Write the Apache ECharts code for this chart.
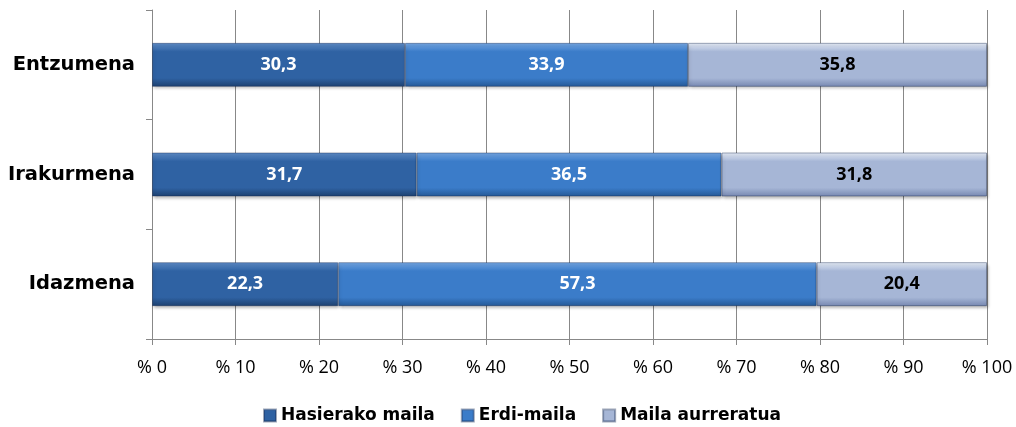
<!DOCTYPE html>
<html><head><meta charset="utf-8">
<script src="https://cdn.jsdelivr.net/npm/echarts@6/dist/echarts.min.js"></script>
<style>html,body{margin:0;padding:0;background:#fff}#c{width:1016px;height:427px}</style>
</head><body><div id="c"></div>
<script>
const categories = ['Idazmena', 'Irakurmena', 'Entzumena'];
const seriesNames = ['Hasierako maila', 'Erdi-maila', 'Maila aurreratua'];
const hasierako = [22.3, 31.7, 30.3];
const erdi = [57.3, 36.5, 33.9];
const aurreratua = [20.4, 31.8, 35.8];
const tickValues = [0,10,20,30,40,50,60,70,80,90,100];

function grad(top, mid, bot) {
  return new echarts.graphic.LinearGradient(0,0,0,1,[
    {offset:0,color:top},{offset:0.2,color:mid},{offset:0.8,color:mid},{offset:1,color:bot}
  ]);
}
const styles = [
  {color: grad('#5f8dc8','#2f62a3','#1c406f'), label:'#ffffff'},
  {color: grad('#76a8e4','#3b7cc9','#245895'), label:'#ffffff'},
  {color: grad('#e8eef8','#a6b6d6','#7687b0'), label:'#000000'}
];
const datas = [hasierako, erdi, aurreratua];
const chart = echarts.init(document.getElementById('c'));
chart.setOption({
  animation:false,
  grid:{left:152,right:29,top:10,bottom:88,containLabel:false},
  legend:{bottom:-2,left:258,itemWidth:12,itemHeight:12,itemGap:26,icon:'rect',
    textStyle:{fontFamily:'DejaVu Sans',fontWeight:'bold',fontSize:17,color:'#000'},
    data:seriesNames},
  xAxis:{type:'value',min:0,max:100,interval:10,
    axisLine:{show:true,lineStyle:{color:'#888',width:1}},
    axisTick:{show:true,length:6,lineStyle:{color:'#888'}},
    splitLine:{show:true,lineStyle:{color:'#888',width:1}},
    axisLabel:{formatter:v=>'% '+v,fontFamily:'Open Sans',fontSize:18,color:'#000',margin:20}},
  yAxis:{type:'category',data:categories,
    axisLine:{show:true,lineStyle:{color:'#888',width:1}},
    axisTick:{show:true,length:6,lineStyle:{color:'#888'}},
    axisLabel:{fontFamily:'DejaVu Sans',fontWeight:'bold',fontSize:19.5,color:'#000',margin:17}},
  series: seriesNames.map((n,i)=>({
    name:n,type:'bar',stack:'t',barWidth:44,data:datas[i],
    itemStyle:{color:styles[i].color,borderColor:'rgba(20,40,80,0.4)',borderWidth:1,
      shadowColor:'rgba(0,0,0,0.3)',shadowBlur:3,shadowOffsetX:1,shadowOffsetY:2},
    label:{show:true,position:'inside',formatter:p=>String(p.value).replace('.',','),
      color:styles[i].label,fontFamily:'Open Sans',fontWeight:'bold',fontSize:18}
  }))
});
</script></body></html>
